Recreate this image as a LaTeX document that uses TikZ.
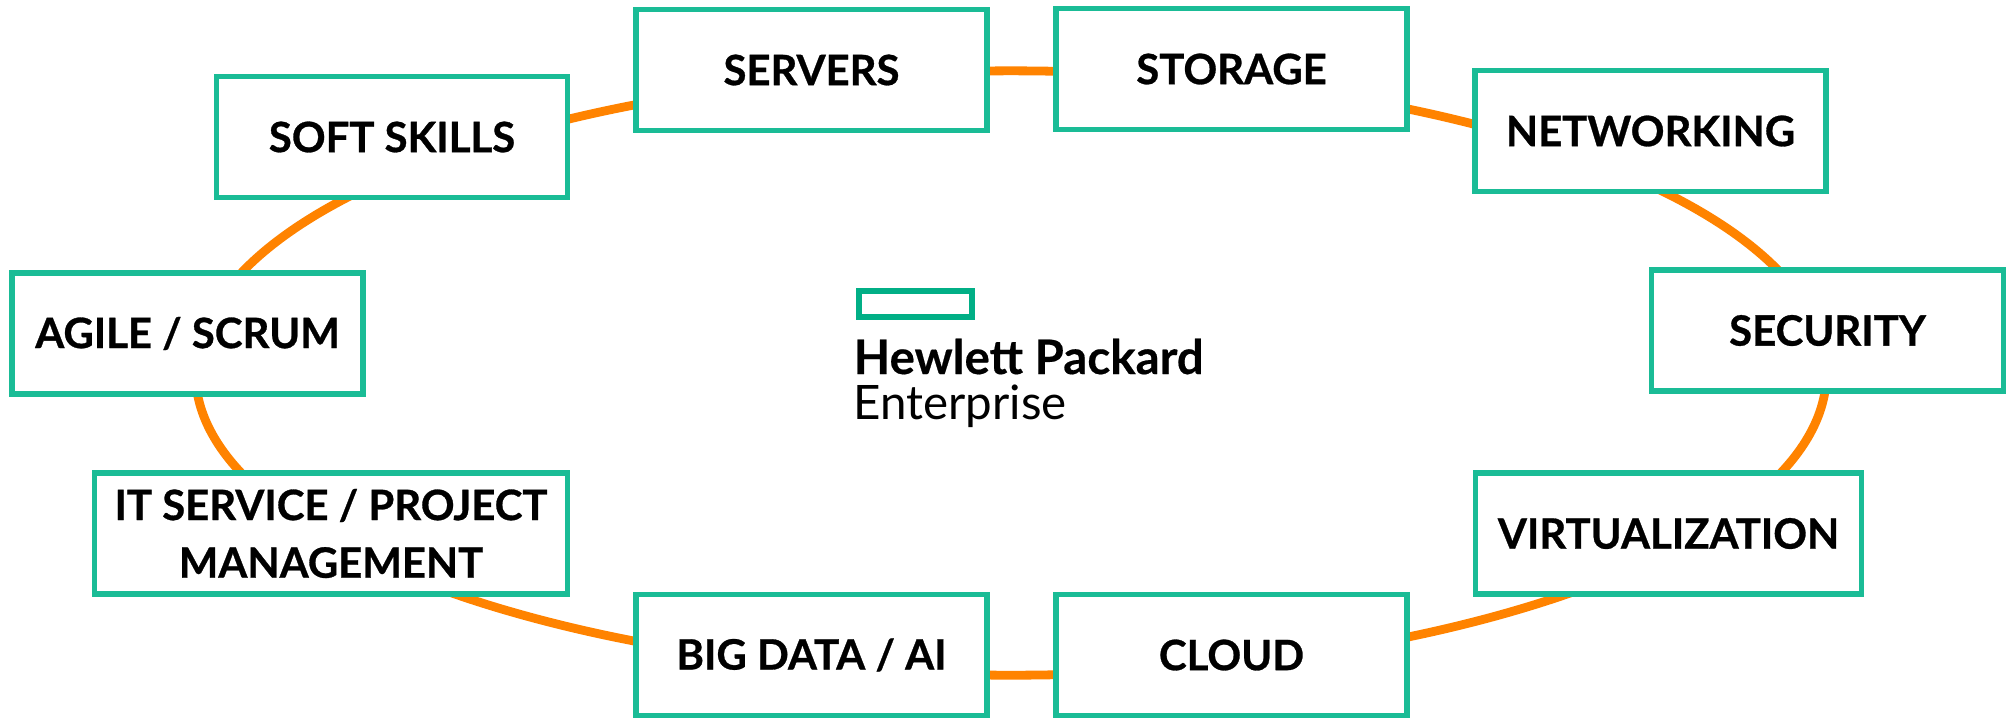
\documentclass[tikz,border=0pt]{standalone}
\usepackage{fontspec}
\setmainfont{Lato}[BoldFeatures={FakeBold=0.7}]
\newfontfamily\logofont{Lato}[BoldFeatures={FakeBold=0.4}]
\definecolor{ringorange}{RGB}{255,131,0}
\definecolor{boxgreen}{RGB}{26,188,150}
\definecolor{hpegreen}{RGB}{1,175,134}
\begin{document}
\begin{tikzpicture}[x=0.01cm,y=-0.01cm,
  topic/.style={draw=boxgreen, line width=1.6pt, fill=white,
    minimum width=3.51cm, minimum height=1.21cm, inner sep=0pt,
    font=\bfseries\fontsize{11.9}{16.4}\selectfont, align=center},
  ring/.style={draw=ringorange, line width=2.5pt}]
\useasboundingbox[fill=white] (0,0) rectangle (2008,720);
\coordinate (c) at (1011,373);
\draw[ring] (c) ellipse [x radius=8.15cm, y radius=3.02cm];
\node[topic] (servers) at (811.5,70) {SERVERS};
\node[topic] (storage) at (1231.5,69) {STORAGE};
\node[topic] (soft) at (392,137) {SOFT SKILLS};
\node[topic] (network) at (1650.5,131) {NETWORKING};
\node[topic] (agile) at (187.5,333.5) {AGILE / SCRUM};
\node[topic, minimum width=3.52cm] (security) at (1827.5,330.5) {SECURITY};
\node[topic, minimum width=4.73cm] (itsm) at (331,533.5) {IT SERVICE / PROJECT\\MANAGEMENT};
\node[topic, minimum width=3.86cm] (virt) at (1668.5,533.5) {VIRTUALIZATION};
\node[topic] (bigdata) at (811.5,655) {BIG DATA / AI};
\node[topic] (cloud) at (1231.5,655) {CLOUD};
\node[draw=hpegreen, line width=1.7pt, minimum width=1.13cm, minimum height=0.26cm, inner sep=0pt] (logomark) at (915.5,304) {};
\node[anchor=base west, inner sep=0pt, font=\logofont\bfseries\fontsize{13.5}{14}\selectfont] (hp) at (853,374) {Hewlett Packard};
\node[anchor=base west, inner sep=0pt, font=\logofont\fontsize{13.5}{14}\selectfont] (ent) at (853,419) {Enterprise};
\end{tikzpicture}
\end{document}
